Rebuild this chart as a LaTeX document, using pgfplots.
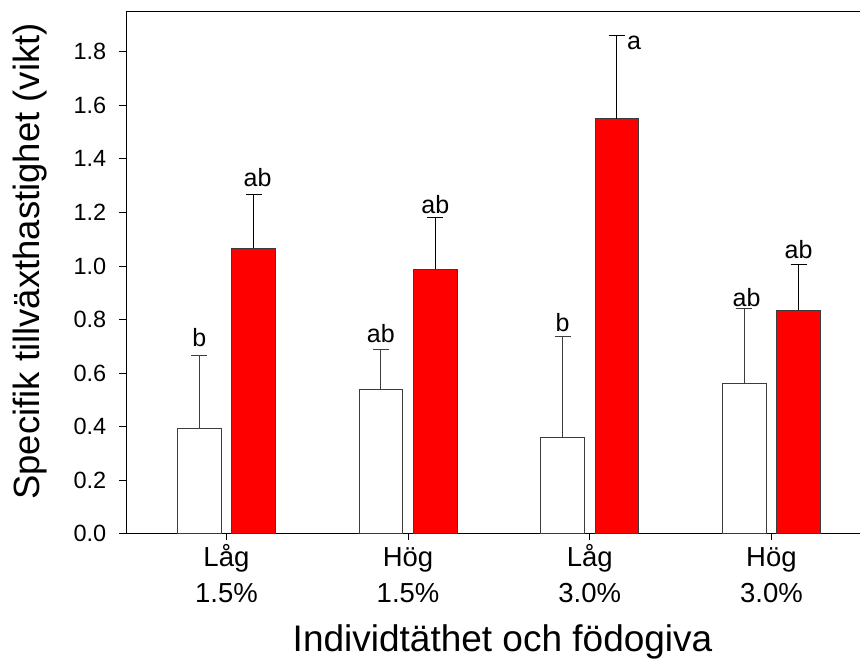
\documentclass[border=0pt]{standalone}
\usepackage{pgfplots}
\pgfplotsset{compat=1.18}
\usepackage{pgfplotstable}
\usepackage{fontspec}
\setmainfont{Liberation Sans}

\definecolor{barred}{RGB}{255,0,0}
\definecolor{edgegray}{RGB}{60,60,60}

% group positions 0..3; white bars left of centre, red bars right
\pgfplotstableread{
x        y      e
-0.1497  0.393  0.273
 0.8503  0.540  0.149
 1.8503  0.360  0.378
 2.8503  0.562  0.278
}\lowdata

\pgfplotstableread{
x        y      e
 0.1497  1.066  0.201
 1.1497  0.987  0.193
 2.1497  1.549  0.312
 3.1497  0.835  0.172
}\highdata

\begin{document}
\begin{tikzpicture}
\path[use as bounding box] (-126pt,-132.3pt) rectangle (734pt,533.7pt);
\begin{axis}[
  at={(0pt,0pt)}, anchor=south west,
  width=734pt, height=522.7pt, scale only axis,
  xmin=-0.5527, xmax=3.4877,
  ymin=0, ymax=1.952,
  axis x line*=box, axis y line*=left,
  axis line style={-, line width=0.9pt, black},
  xtick={0,1,2,3}, xtick pos=bottom,
  xticklabels={{\strut Låg\\1.5\%},{\strut Hög\\1.5\%},{\strut Låg\\3.0\%},{\strut Hög\\3.0\%}},
  ytick={0,0.2,...,1.8}, ytick pos=left,
  tick align=outside,
  major tick length=6.5pt,
  x tick style={line width=0.8pt, black},
  y tick style={line width=0.8pt, black},
  /pgf/number format/assume math mode=true,
  /pgf/number format/fixed, /pgf/number format/fixed zerofill,
  /pgf/number format/precision=1,
  yticklabel style={font=\fontsize{23.5}{28}\selectfont, inner sep=0pt, anchor=east, xshift=-13pt},
  xticklabel style={font=\fontsize{27.5}{36}\selectfont, align=center, anchor=north, inner sep=0pt, yshift=-1pt},
  ylabel={Specifik tillväxthastighet (vikt)},
  ylabel style={font=\fontsize{36.5}{40}\selectfont, at={(axis description cs:-0.1308,0.521)}, anchor=center},
  xlabel={Individtäthet och födogiva},
  xlabel style={font=\fontsize{37}{40}\selectfont, at={(axis description cs:0.513,-0.2066)}, anchor=center},
  ybar, bar shift=0pt, bar width=0.2395,
  error bars/y dir=plus, error bars/y explicit,
  error bars/error mark options={rotate=90, mark size=8pt, line width=0.9pt},
  clip=false,
]
\addplot[fill=white, draw=edgegray, line width=0.9pt,
  error bars/error bar style={line width=0.9pt, edgegray}]
  table[x=x, y=y, y error=e] {\lowdata};
\addplot[fill=barred, draw=edgegray, line width=0.9pt,
  error bars/error bar style={line width=0.9pt, black}]
  table[x=x, y=y, y error=e] {\highdata};

% significance letters above the error bars
\begin{scope}[every node/.style={font=\fontsize{25}{30}\selectfont, inner sep=0pt, anchor=south}]
\node[yshift=8pt]   at (axis cs:-0.1497,0.666) {b};
\node[yshift=6pt]   at (axis cs:0.8503,0.689) {ab};
\node[yshift=4pt]   at (axis cs:1.8503,0.738) {b};
\node[yshift=1.5pt, xshift=2.4pt] at (axis cs:2.8503,0.840) {ab};
\node[yshift=7pt, xshift=4pt]   at (axis cs:0.1497,1.267) {ab};
\node[yshift=3.7pt] at (axis cs:1.1497,1.180) {ab};
\node[yshift=4.6pt] at (axis cs:3.1497,1.007) {ab};
\node[anchor=north west, xshift=10pt, yshift=0pt] at (axis cs:2.1497,1.861) {a};
\end{scope}
\end{axis}
\end{tikzpicture}
\end{document}
